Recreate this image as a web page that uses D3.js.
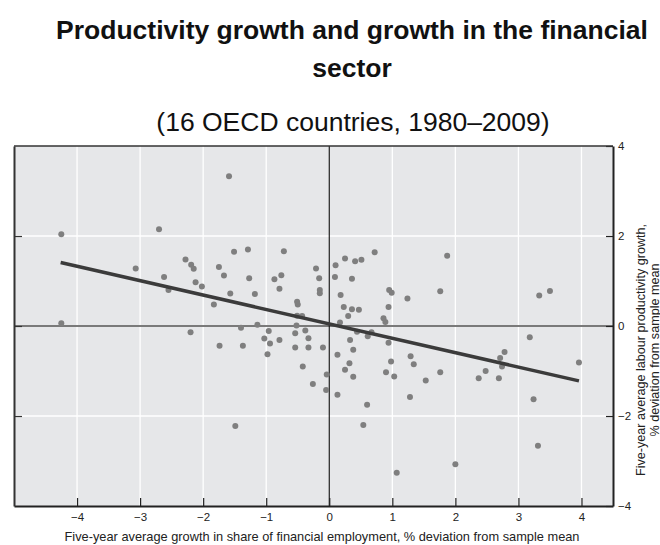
<!DOCTYPE html>
<html>
<head>
<meta charset="utf-8">
<script src="https://cdn.jsdelivr.net/npm/d3@7"></script>
<style>
  body { margin: 0; background: #fff; }
  svg { display: block; font-family: "Liberation Sans", Arial, Helvetica, sans-serif; }
</style>
</head>
<body>
<div class="chart-container"></div>
<script>
//! DATA
const finGrowth = [
  -4.25, -4.25, -2.70, -3.07, -2.62, -2.55, -2.28, -2.19, -2.15, -2.12,
  -2.02, -1.83, -2.20, -1.75, -1.74, -1.59, -1.51, -1.29, -0.72, -1.67,
  -1.27, -0.87, -0.76, -0.79, -1.57, -1.18, -0.21, -0.16, -0.15, -0.15,
  -0.51, -0.50, -0.51, -0.43, -1.14, -1.40, -0.52, -0.96, -0.38, -0.54,
  -1.03, -0.94, -0.79, -0.33, -1.37, -0.54, -0.33, -0.10, 0.10, 0.25,
  0.41, 0.51, 0.72, 0.09, 0.36, 0.18, 0.95, 0.99, 1.24, 0.23,
  0.36, 0.47, 0.30, 0.94, 0.86, 0.89, 0.17, 0.44, 0.67, 0.61,
  0.33, 0.94, 0.38, 1.87, 1.76, 3.33, 3.50, 3.18, 2.78, -0.98,
  -0.42, -0.26, -0.04, -0.05, -1.49, 0.13, 0.32, 0.25, 0.38, 0.13,
  0.60, 0.54, 0.98, 0.90, 1.03, 1.29, 1.34, 1.28, 1.07, 1.53,
  1.76, 2.00, 2.37, 2.48, 2.69, 2.71, 2.74, 3.24, 3.31, 3.96
];
const prodGrowth = [
  2.04, 0.06, 2.15, 1.28, 1.09, 0.80, 1.48, 1.36, 1.27, 0.97,
  0.88, 0.48, -0.14, 1.31, -0.44, 3.33, 1.65, 1.70, 1.66, 1.12,
  1.06, 1.04, 1.13, 0.83, 0.72, 0.71, 1.28, 1.06, 0.80, 0.73,
  0.54, 0.48, 0.23, 0.22, 0.03, -0.04, 0.01, -0.11, -0.10, -0.16,
  -0.28, -0.39, -0.31, -0.27, -0.44, -0.48, -0.48, -0.48, 1.35, 1.50,
  1.44, 1.47, 1.64, 1.09, 1.05, 0.69, 0.80, 0.74, 0.61, 0.42,
  0.37, 0.36, 0.22, 0.42, 0.17, 0.09, 0.08, -0.13, -0.14, -0.23,
  -0.31, -0.37, -0.53, 1.56, 0.77, 0.68, 0.78, -0.25, -0.58, -0.63,
  -0.90, -1.29, -1.08, -1.42, -2.22, -0.64, -0.83, -0.97, -1.13, -1.53,
  -1.75, -2.20, -0.79, -1.03, -1.12, -0.67, -0.85, -1.58, -3.26, -1.21,
  -1.03, -3.07, -1.16, -1.00, -1.16, -0.71, -0.90, -1.63, -2.66, -0.81
];
const fitX = [-4.26, 3.96];
const fitY = [1.41, -1.22];
const xTicks = [-4, -3, -2, -1, 0, 1, 2, 3, 4];
const yTicks = [-4, -2, 0, 2, 4];

const titleLines = ['Productivity growth and growth in the financial', 'sector'];
const subtitle = '(16 OECD countries, 1980\u20132009)';
const xLabel = 'Five-year average growth in share of financial employment, % deviation from sample mean';
const yLabelLines = ['Five-year average labour productivity growth,', '% deviation from sample mean'];

//! CONSTS
const width = 660;
const height = 545;
const plotLeft = 14, plotRight = 613, plotTop = 146, plotBottom = 506;

const svg = d3.select('.chart-container')
  .append('svg')
  .attr('width', width)
  .attr('height', height);

//! SCALES
const xScale = d3.scaleLinear().domain([-5, 4.5]).range([plotLeft, plotRight]);
const yScale = d3.scaleLinear().domain([-4, 4]).range([plotBottom, plotTop]);

//! TITLES
svg.selectAll('.title')
  .data(titleLines)
  .enter()
  .append('text')
  .attr('class', 'title')
  .attr('x', 352)
  .attr('y', (d, i) => 39 + i * 38)
  .attr('text-anchor', 'middle')
  .attr('font-size', 26.5)
  .attr('font-weight', 'bold')
  .attr('fill', '#111')
  .text(d => d);

svg.append('text')
  .attr('x', 353)
  .attr('y', 131)
  .attr('text-anchor', 'middle')
  .attr('font-size', 26.5)
  .attr('fill', '#111')
  .text(subtitle);

//! PLOT BACKGROUND
svg.append('rect')
  .attr('x', plotLeft)
  .attr('y', plotTop)
  .attr('width', plotRight - plotLeft)
  .attr('height', plotBottom - plotTop)
  .attr('fill', '#e6e7e9');

// grid
svg.append('g')
  .selectAll('line')
  .data(xTicks.filter(d => d !== 0))
  .enter()
  .append('line')
  .attr('x1', d => xScale(d)).attr('x2', d => xScale(d))
  .attr('y1', plotTop).attr('y2', plotBottom)
  .attr('stroke', '#fff').attr('stroke-width', 1.3);

svg.append('g')
  .selectAll('line')
  .data(yTicks.filter(d => d !== 0 && Math.abs(d) < 4))
  .enter()
  .append('line')
  .attr('x1', plotLeft).attr('x2', plotRight)
  .attr('y1', d => yScale(d)).attr('y2', d => yScale(d))
  .attr('stroke', '#fff').attr('stroke-width', 1.3);

// zero lines
svg.append('line')
  .attr('x1', plotLeft).attr('x2', plotRight)
  .attr('y1', yScale(0)).attr('y2', yScale(0))
  .attr('stroke', '#7a7a7a').attr('stroke-width', 1.8);

svg.append('line')
  .attr('x1', xScale(0)).attr('x2', xScale(0))
  .attr('y1', plotTop).attr('y2', plotBottom)
  .attr('stroke', '#111').attr('stroke-width', 1.1);

//! POINTS
svg.append('g')
  .selectAll('circle')
  .data(d3.zip(finGrowth, prodGrowth))
  .enter()
  .append('circle')
  .attr('cx', d => xScale(d[0]))
  .attr('cy', d => yScale(d[1]))
  .attr('r', 3)
  .attr('fill', '#7f7f7f');

//! FIT LINE
svg.append('path')
  .datum(d3.zip(fitX, fitY))
  .attr('d', d3.line().x(d => xScale(d[0])).y(d => yScale(d[1])))
  .attr('fill', 'none')
  .attr('stroke', '#3b3b3b')
  .attr('stroke-width', 3.5);

//! AXES
const xAxis = d3.axisBottom(xScale)
  .tickValues(xTicks)
  .tickSizeInner(-8)
  .tickSizeOuter(0)
  .tickPadding(7);

const gx = svg.append('g')
  .attr('transform', `translate(0,${plotBottom})`)
  .call(xAxis);
gx.select('.domain').attr('stroke', '#222').attr('stroke-width', 2);
gx.selectAll('.tick line').attr('stroke', '#222').attr('stroke-width', 1.2);
gx.selectAll('text').attr('font-size', 11.5).attr('fill', '#222');
gx.attr('font-family', null);

const yAxisRight = d3.axisRight(yScale)
  .tickValues(yTicks)
  .tickSizeInner(-7)
  .tickSizeOuter(0)
  .tickPadding(5);

const gy = svg.append('g')
  .attr('transform', `translate(${plotRight},0)`)
  .call(yAxisRight);
gy.select('.domain').attr('stroke', '#222').attr('stroke-width', 2);
gy.selectAll('.tick line').attr('stroke', '#222').attr('stroke-width', 1.2);
gy.selectAll('text').attr('font-size', 11.5).attr('fill', '#222');
gy.attr('font-family', null);

const yAxisLeft = d3.axisLeft(yScale)
  .tickValues(yTicks.filter(d => Math.abs(d) < 4))
  .tickSizeInner(-8)
  .tickSizeOuter(0)
  .tickFormat('');

const gyl = svg.append('g')
  .attr('transform', `translate(${plotLeft},0)`)
  .call(yAxisLeft);
gyl.select('.domain').attr('stroke', '#333').attr('stroke-width', 2);
gyl.selectAll('.tick line').attr('stroke', '#333').attr('stroke-width', 1.2);

// top border
svg.append('line')
  .attr('x1', plotLeft).attr('x2', plotRight)
  .attr('y1', plotTop).attr('y2', plotTop)
  .attr('stroke', '#333').attr('stroke-width', 1.5);

//! AXIS LABELS
svg.append('text')
  .attr('x', 322)
  .attr('y', 541)
  .attr('text-anchor', 'middle')
  .attr('font-size', 12.8)
  .attr('fill', '#222')
  .text(xLabel);

svg.selectAll('.ylabel')
  .data(yLabelLines)
  .enter()
  .append('text')
  .attr('class', 'ylabel')
  .attr('transform', (d, i) => `translate(${645 + i * 14},350) rotate(-90)`)
  .attr('text-anchor', 'middle')
  .attr('font-size', 12.6)
  .attr('fill', '#222')
  .text(d => d);
</script>
</body>
</html>
